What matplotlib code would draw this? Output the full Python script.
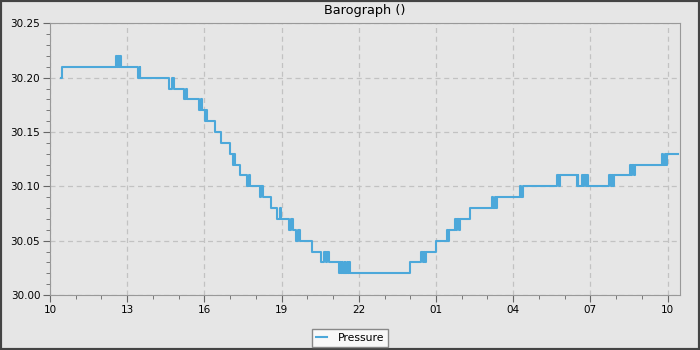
import datetime as dt
import matplotlib
matplotlib.use("Agg")
import matplotlib.pyplot as plt
import matplotlib.dates as mdates
from matplotlib.ticker import MultipleLocator, FormatStrFormatter
from matplotlib.patches import Rectangle

# readings: minutes after 10:00, pressure (inHg)
minutes = [25, 28,
           154, 157, 159, 162, 164, 166,
           206, 209, 211,
           278, 284, 288,
           313, 316, 319,
           348, 351, 354,
           361, 363, 365,
           384, 398,
           419, 426, 429, 431,
           443,
           460, 463, 466,
           490, 493, 496,
           515,
           530, 537, 539,
           558, 562, 566,
           574, 578, 583,
           612,
           632, 640, 643, 646, 651,
           674, 677, 679, 682, 684, 687, 689, 692, 694, 697, 699,
           839,
           866, 869, 871, 874, 877,
           901,
           926, 928, 930,
           944, 947, 950, 953, 956,
           979,
           1031, 1034, 1037, 1040, 1043,
           1097, 1099, 1102,
           1183, 1186, 1189,
           1228, 1230, 1232,
           1240, 1243, 1246, 1249, 1252, 1254,
           1304, 1307, 1310, 1313, 1316,
           1352, 1355, 1358, 1361, 1364,
           1427, 1430, 1433, 1436, 1439,
           1465]
pressure = [30.20, 30.21,
            30.22, 30.21, 30.22, 30.21, 30.22, 30.21,
            30.20, 30.21, 30.20,
            30.19, 30.20, 30.19,
            30.18, 30.19, 30.18,
            30.17, 30.18, 30.17,
            30.16, 30.17, 30.16,
            30.15, 30.14,
            30.13, 30.12, 30.13, 30.12,
            30.11,
            30.10, 30.11, 30.10,
            30.09, 30.10, 30.09,
            30.08,
            30.07, 30.08, 30.07,
            30.06, 30.07, 30.06,
            30.05, 30.06, 30.05,
            30.04,
            30.03, 30.04, 30.03, 30.04, 30.03,
            30.02, 30.03, 30.02, 30.03, 30.02, 30.03, 30.02, 30.03, 30.02, 30.03, 30.02,
            30.03,
            30.04, 30.03, 30.04, 30.03, 30.04,
            30.05,
            30.06, 30.05, 30.06,
            30.07, 30.06, 30.07, 30.06, 30.07,
            30.08,
            30.09, 30.08, 30.09, 30.08, 30.09,
            30.10, 30.09, 30.10,
            30.11, 30.10, 30.11,
            30.10, 30.11, 30.10,
            30.11, 30.10, 30.11, 30.10, 30.11, 30.10,
            30.11, 30.10, 30.11, 30.10, 30.11,
            30.12, 30.11, 30.12, 30.11, 30.12,
            30.13, 30.12, 30.13, 30.12, 30.13,
            30.13]

base = dt.datetime(2024, 1, 1, 10, 0)
times = [base + dt.timedelta(minutes=m) for m in minutes]

bg = '#e6e6e6'
fig = plt.figure(figsize=(7, 3.5), dpi=100, facecolor=bg)
fig.patches.append(Rectangle((0, 0), 1, 1, transform=fig.transFigure,
                             fill=False, edgecolor='#444444', linewidth=3))
ax = fig.add_axes([50 / 700, 1 - 295 / 350, 630 / 700, (295 - 23.3) / 350])
ax.set_facecolor(bg)

ax.plot(times, pressure, drawstyle='steps-post', color='#4ca8da',
        linewidth=1.5, label='Pressure')

ax.set_xlim(base, base + dt.timedelta(minutes=1469))
ax.set_ylim(30.00, 30.25)
ax.yaxis.set_major_locator(MultipleLocator(0.05))
ax.yaxis.set_minor_locator(MultipleLocator(0.01))
ax.yaxis.set_major_formatter(FormatStrFormatter('%.2f'))
ax.xaxis.set_major_locator(mdates.HourLocator(byhour=range(1, 24, 3)))
ax.xaxis.set_minor_locator(mdates.HourLocator())
ax.xaxis.set_major_formatter(mdates.DateFormatter('%H'))

ax.grid(True, which='major', linestyle=(0, (4, 3)), color='#c2c2c2', linewidth=0.9)
ax.set_axisbelow(True)
for side in ['left', 'bottom', 'top', 'right']:
    ax.spines[side].set_color('#999999')
ax.tick_params(which='major', length=5, color='#666666', labelsize=7.5, pad=2)
ax.tick_params(which='minor', length=3, color='#666666')

ax.set_title('Barograph ()', fontsize=9.3, pad=6.5)

fig.legend(loc='lower center', bbox_to_anchor=(0.5, 3.3 / 350), fontsize=7.8,
           frameon=True, fancybox=False, edgecolor='#888888',
           facecolor='#f8f8f8', framealpha=1, handlelength=1.0,
           handletextpad=1.0, borderpad=0.35, borderaxespad=0)

fig.savefig('out.png', dpi=100, facecolor=bg)
